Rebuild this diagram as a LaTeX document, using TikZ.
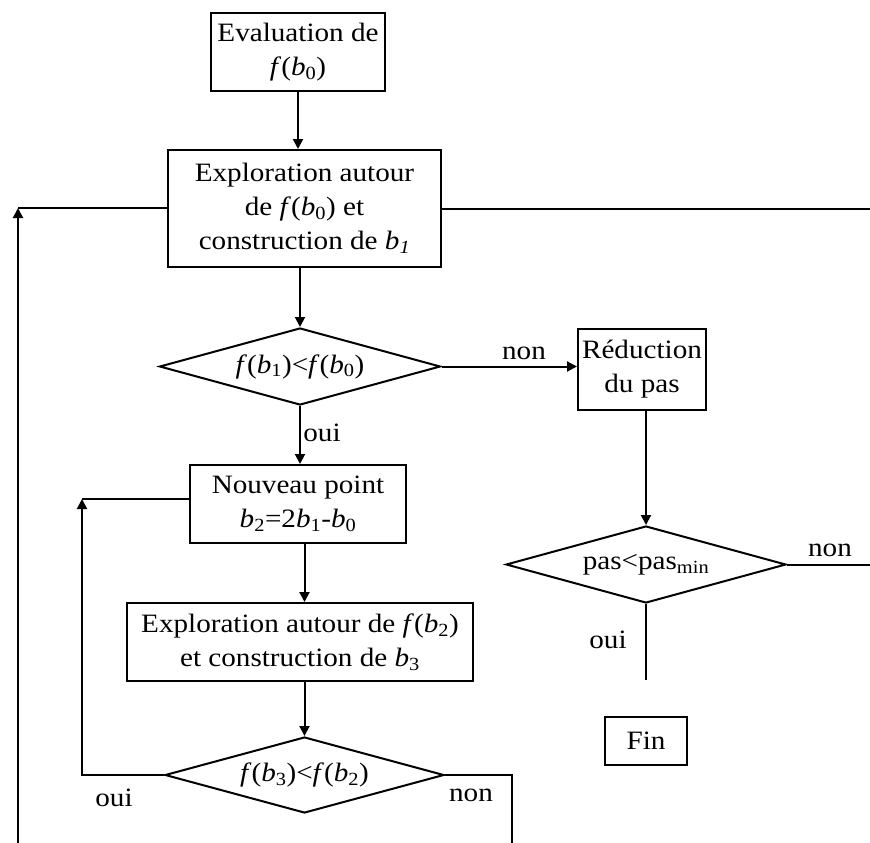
\documentclass[tikz,border=0pt]{standalone}
\usepackage{fontspec}
\setmainfont{Liberation Serif}[FakeStretch=1.1]
\usetikzlibrary{shapes.geometric,arrows.meta}
\begin{document}
\begin{tikzpicture}[x=1pt,y=-1pt,
  every node/.style={font=\fontsize{26.5}{34}\selectfont},
  box/.style={draw, line width=2pt, rectangle, inner sep=0pt, align=center},
  dec/.style={draw, line width=2pt, diamond, aspect=3.6, inner sep=0pt, align=center},
  line/.style={line width=2pt},
  arr/.style={line width=2pt, -{Triangle[length=10pt,width=10pt]}},
  lbl/.style={inner sep=0pt}
]
\useasboundingbox (0,0) rectangle (870,843);

\node[box, minimum width=174pt, minimum height=78pt] (eval) at (298,52) {Evaluation de\\\textit{f}(\textit{b}\textsubscript{0})};
\node[box, minimum width=273pt, minimum height=117pt] (expl1) at (304.5,208.5) {Exploration autour\\de \textit{f}(\textit{b}\textsubscript{0}) et\\construction de \textit{b}\textsubscript{\textit{1}}};
\node[dec, minimum width=281pt, minimum height=77pt] (d1) at (300,366.5) {\textit{f}(\textit{b}\textsubscript{1})<\textit{f}(\textit{b}\textsubscript{0})};
\node[box, minimum width=128pt, minimum height=81pt] (red) at (642,369.5) {Réduction\\du pas};
\node[dec, minimum width=280pt, minimum height=77pt] (d2) at (646,564.5) {pas<pas\textsubscript{min}};
\node[box, minimum width=216pt, minimum height=78pt] (np) at (298,504) {Nouveau point\\\textit{b}\textsubscript{2}=2\textit{b}\textsubscript{1}-\textit{b}\textsubscript{0}};
\node[box, minimum width=346pt, minimum height=78pt] (expl2) at (300,642) {Exploration autour de \textit{f}(\textit{b}\textsubscript{2})\\et construction de \textit{b}\textsubscript{3}};
\node[dec, minimum width=279pt, minimum height=76pt] (d3) at (304.5,775) {\textit{f}(\textit{b}\textsubscript{3})<\textit{f}(\textit{b}\textsubscript{2})};
\node[box, minimum width=82pt, minimum height=48pt] (fin) at (646,741) {Fin};

\node[lbl] (non1) at (524,353) {non};
\node[lbl] (oui1) at (322,433) {oui};
\node[lbl] (non2) at (830,550) {non};
\node[lbl] (oui2) at (608,640) {oui};
\node[lbl] (oui3) at (114,798) {oui};
\node[lbl] (non3) at (471,795) {non};

\coordinate (c1) at (18,208);
\coordinate (b1) at (18,843);
\coordinate (r1) at (870,209);
\coordinate (e2) at (870,564.5);
\coordinate (o2end) at (646,680);
\coordinate (c3) at (82,499);
\coordinate (r3) at (512,843);

\draw[arr] (eval.south) -- (eval.south |- expl1.north);
\draw[arr] (d1.north |- expl1.south) -- (d1.north);
\draw[arr] (d1.east) -- (d1.east -| red.west);
\draw[arr] (red.south -| d2.north) -- (d2.north);
\draw[line] (d2.east) -- (e2);
\draw[line] (d2.south) -- (o2end);
\draw[arr] (d1.south) -- (d1.south |- np.north);
\draw[arr] (np.south -| d3.north) -- (d3.north |- expl2.north);
\draw[arr] (d3.north |- expl2.south) -- (d3.north);
\draw[arr] (d3.west) -| (c3);
\draw[line] (c3) -- (c3 -| np.west);
\draw[arr] (b1) -- (c1);
\draw[line] (c1) -- (c1 -| expl1.west);
\draw[line] (expl1.east |- r1) -- (r1);
\draw[line] (d3.east) -| (r3);
\end{tikzpicture}
\end{document}
